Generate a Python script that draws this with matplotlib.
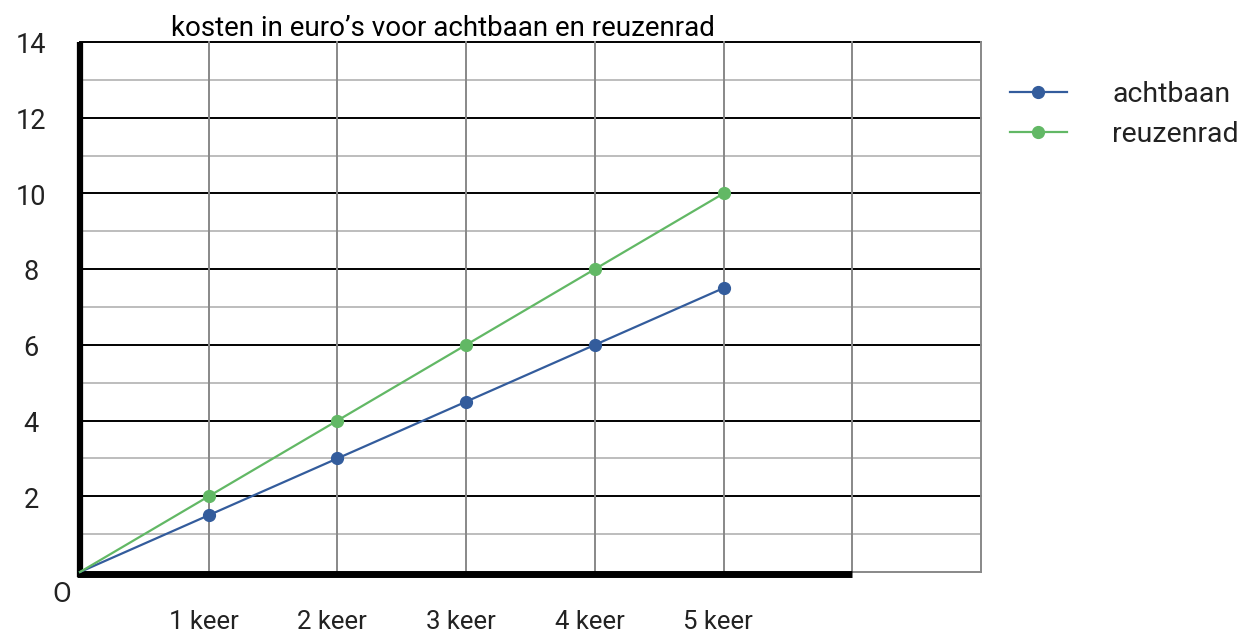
import matplotlib.pyplot as plt

plt.rcParams['font.family'] = ['Roboto', 'DejaVu Sans']

# Data
keer = [0, 1, 2, 3, 4, 5]
achtbaan = [0, 1.5, 3, 4.5, 6, 7.5]
reuzenrad = [0, 2, 4, 6, 8, 10]

x_labels = ['1 keer', '2 keer', '3 keer', '4 keer', '5 keer']
y_ticks = [2, 4, 6, 8, 10, 12, 14]

blue = '#335c9c'
green = '#62b865'
text_color = '#222222'

fig = plt.figure(figsize=(12.56, 6.35), dpi=100)
ax = fig.add_axes([80 / 1256, 63 / 635, 901 / 1256, 530 / 635])
ax.set_xlim(0, 7)
ax.set_ylim(0, 14)
ax.axis('off')

# grid: black on even values, light grey on odd values
for y in range(1, 15):
    if y % 2 == 0:
        ax.axhline(y, color='black', lw=1.4, zorder=1, clip_on=False)
    else:
        ax.axhline(y, color='#bdbdbd', lw=1.4, zorder=1)
for x in range(1, 8):
    ax.axvline(x, color='#888888', lw=1.4, zorder=1, clip_on=False)
ax.plot([6, 7], [0, 0], color='#888888', lw=1.4, zorder=1, clip_on=False)

# thick axes
ax.plot([0, 0], [-0.13, 14], color='black', lw=4.5, zorder=4, clip_on=False,
        solid_capstyle='butt')
ax.plot([-0.02, 6], [-0.05, -0.05], color='black', lw=5, zorder=4, clip_on=False,
        solid_capstyle='butt')

ax.plot(keer, achtbaan, color=blue, lw=1.6, marker='o', ms=8.5, label='achtbaan',
        markevery=slice(1, None), zorder=5, clip_on=False)
ax.plot(keer, reuzenrad, color=green, lw=1.6, marker='o', ms=8.5, label='reuzenrad',
        markevery=slice(1, None), zorder=5, clip_on=False)

# tick labels
for i, lab in enumerate(x_labels):
    ax.text(i + 1 - 0.04, -1.32, lab, fontsize=18.5, color=text_color,
            ha='center', va='center')
for v in y_ticks:
    ax.text(-0.38, v - 0.1, str(v), fontsize=19.5, color=text_color,
            ha='center', va='center')
ax.text(-0.14, -0.6, 'O', fontsize=19.5, color=text_color,
        ha='center', va='center')

ax.set_title("kosten in euro\u2019s voor achtbaan en reuzenrad", fontsize=20,
             x=0.403, pad=4, color='black')

leg = ax.legend(loc='upper left', bbox_to_anchor=(1010 / 1256, 1 - 81 / 635),
                bbox_transform=fig.transFigure, frameon=False,
                handlelength=2.0, handletextpad=1.6, labelspacing=0.45,
                borderpad=0, borderaxespad=0,
                prop={'size': 20.5})
for t in leg.get_texts():
    t.set_color(text_color)

fig.savefig('out.png', dpi=100)
